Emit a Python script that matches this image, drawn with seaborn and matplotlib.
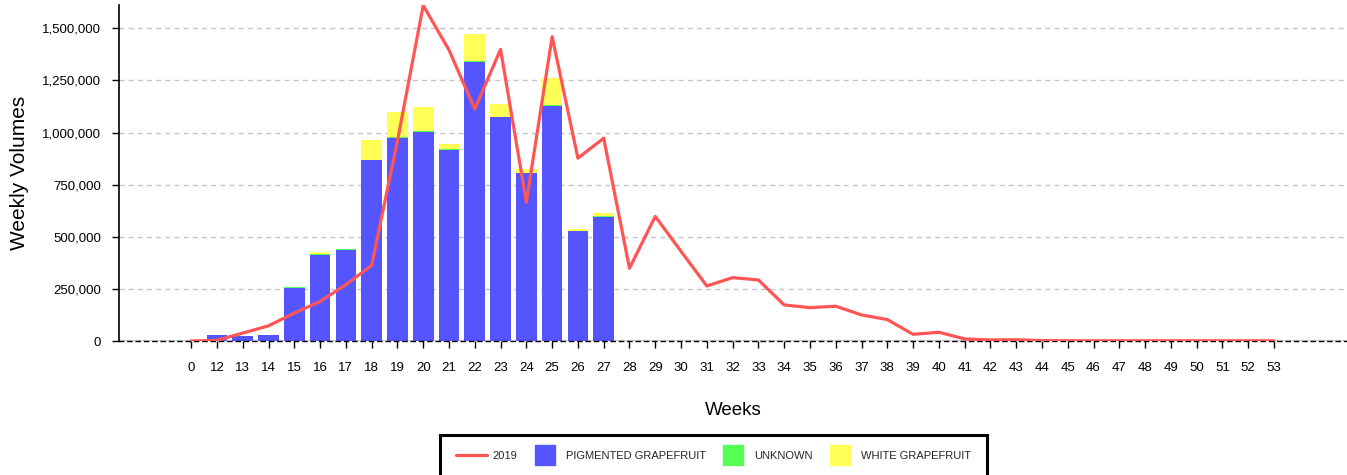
import numpy as np
import seaborn as sns
import matplotlib.pyplot as plt
from matplotlib.lines import Line2D
from matplotlib.ticker import FuncFormatter

# week categories on the x axis
weeks = ["0"] + [str(w) for w in range(12, 54)]

# stacked bar series (weeks 0, 12..27 have data, rest are zero)
pigmented = [0, 30000, 26000, 30000, 256000, 414000, 438000, 869000, 976000,
             1005000, 918000, 1340000, 1073000, 805000, 1129000, 526000, 597000] + [0] * 26
unknown = [0, 0, 0, 0, 1000, 1000, 1000, 1500, 2000,
           2500, 2000, 3000, 2000, 3000, 3000, 1000, 1500] + [0] * 26
white = [0, 0, 0, 0, 3000, 12000, 4000, 94000, 121000,
         115000, 26000, 130000, 64000, 18000, 130000, 10000, 13500] + [0] * 26

# previous season line
line_2019 = [0, 3000, 38000, 73000, 134000, 190000, 270000, 363000, 960000,
             1610000, 1396000, 1113000, 1399000, 666000, 1460000, 877000, 973000,
             349000, 598000, 430000, 264000, 304000, 293000, 173000, 160000,
             167000, 125000, 103000, 32000, 42000, 10000, 5000, 6000, 2000,
             1000, 1000, 1000, 1000, 1000, 1000, 1000, 1000, 1000]

BLUE, GREEN, YELLOW, RED = "#5555ff", "#55ff55", "#ffff55", "#ff5555"

sns.set_theme(style="white")
plt.rcParams["font.family"] = ["Liberation Sans", "DejaVu Sans"]

fig = plt.figure(figsize=(13.47, 4.75), dpi=100)
ax = fig.add_axes([119 / 1347, 1 - 341 / 475, 1228 / 1347, 336 / 475])

pig = np.array(pigmented)
unk = np.array(unknown)
wht = np.array(white)

# stacked look: draw totals first, then the lower layers on top
bar_kw = dict(order=weeks, saturation=1, width=0.8, ax=ax, zorder=2,
              linewidth=0, edgecolor="none")
sns.barplot(x=weeks, y=pig + unk + wht, color=YELLOW, **bar_kw)
sns.barplot(x=weeks, y=pig + unk, color=GREEN, **bar_kw)
sns.barplot(x=weeks, y=pig, color=BLUE, **bar_kw)

sns.lineplot(x=np.arange(len(weeks)), y=line_2019, color=RED, lw=2.3, ax=ax,
             zorder=4, legend=False)

ax.set_xlim(-2.8, 44.83)
ax.set_ylim(0, 1612000)
ax.set_yticks([0, 250000, 500000, 750000, 1000000, 1250000, 1500000])
ax.yaxis.set_major_formatter(FuncFormatter(lambda v, p: f"{int(v):,}"))

ax.yaxis.grid(True, color="#c4c4c4", lw=1, linestyle=(0, (3.6, 3.0)))
ax.xaxis.grid(False)
ax.set_axisbelow(True)

# baseline: grey line with black dashes over it
ax.axhline(0, color="#c8c8c8", lw=2, zorder=1)
for s in ["top", "right"]:
    ax.spines[s].set_visible(False)
ax.spines["left"].set_color("black")
ax.spines["left"].set_linewidth(1.2)
ax.spines["bottom"].set_color("black")
ax.spines["bottom"].set_linewidth(1)
ax.spines["bottom"].set_linestyle((0, (3, 3)))

ax.tick_params(axis="x", bottom=True, direction="out", length=5, width=1,
               color="black", labelsize=9.5, pad=10, labelcolor="black")
ax.tick_params(axis="y", left=True, direction="out", length=5, width=1,
               color="black", labelsize=9.5, pad=8, labelcolor="black")

ax.set_xlabel("Weeks", fontsize=13.5, labelpad=20, color="black")
ax.set_ylabel("Weekly Volumes", fontsize=15, labelpad=9, color="black")

handles = [
    Line2D([], [], color=RED, lw=2.3),
    Line2D([], [], marker="s", color=BLUE, linestyle="none", markersize=15),
    Line2D([], [], marker="s", color=GREEN, linestyle="none", markersize=15),
    Line2D([], [], marker="s", color=YELLOW, linestyle="none", markersize=15),
]
labels = ["2019", "PIGMENTED GRAPEFRUIT", "UNKNOWN", "WHITE GRAPEFRUIT"]
leg = fig.legend(handles, labels, loc="center", bbox_to_anchor=(713.5 / 1347, 1 - 456 / 475),
                 ncol=4, fontsize=8, handlelength=2.8, handletextpad=0.5,
                 columnspacing=1.05, frameon=True, fancybox=False, borderpad=1.4,
                 framealpha=1)
leg.get_frame().set_edgecolor("black")
leg.get_frame().set_linewidth(2.2)

fig.savefig("out.png", dpi=100)
